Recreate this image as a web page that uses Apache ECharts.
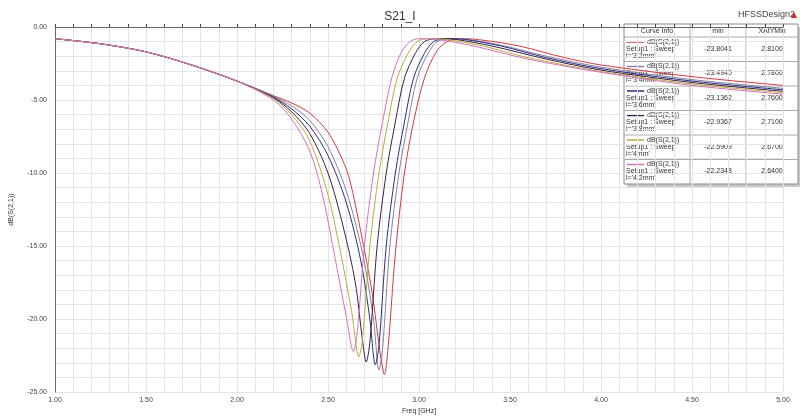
<!DOCTYPE html>
<html>
<head>
<meta charset="utf-8">
<script src="https://cdn.jsdelivr.net/npm/echarts@6/dist/echarts.min.js"></script>
<style>html,body{margin:0;padding:0;background:#fff}#chart{width:800px;height:420px}</style>
</head>
<body>
<div id="chart"></div>
<script>
// S21 sweep curves
const curveNames = ["l='3.2mm'", "l='3.4mm'", "l='3.6mm'", "l='3.8mm'", "l='4mm'", "l='4.2mm'"];
const curveColors = ['#d8383e', '#8a7fa0', '#2a2f7a', '#3a1f4a', '#b5ae3c', '#d86fbf'];
const minValues = ['-23.8041', '-23.4940', '-23.1362', '-22.9367', '-22.5909', '-22.2348'];
const minAt = ['2.8100', '2.7800', '2.7600', '2.7100', '2.6700', '2.6400'];

const sweep32 = [[1.0,-0.8],[1.25,-1.15],[1.5,-1.7],[1.75,-2.6],[2.0,-3.7],[2.2,-4.7],[2.3,-5.2],[2.4,-5.9],[2.5,-7.2],[2.58,-9.1],[2.62,-10.5],[2.68,-14],[2.74,-18],[2.79,-22.6],[2.81,-23.80],[2.83,-22],[2.87,-15.5],[2.92,-10],[2.97,-6.5],[3.03,-3.5],[3.10,-1.6],[3.17,-0.9],[3.25,-0.8],[3.35,-0.9],[3.55,-1.3],[3.8,-2.1],[4.0,-2.6],[4.5,-3.4],[5.0,-4.0]];
const sweep34 = [[1.0,-0.8],[1.25,-1.15],[1.5,-1.7],[1.75,-2.6],[2.0,-3.7],[2.2,-4.75],[2.3,-5.4],[2.4,-6.4],[2.5,-8.2],[2.6,-11.2],[2.69,-15.5],[2.75,-20],[2.78,-23.49],[2.80,-22],[2.84,-15],[2.89,-10],[2.94,-6.5],[2.99,-3.5],[3.05,-1.8],[3.1,-1.0],[3.17,-0.8],[3.27,-0.85],[3.47,-1.3],[3.7,-2.0],[4.0,-2.75],[4.5,-3.6],[5.0,-4.2]];
const sweep36 = [[1.0,-0.8],[1.25,-1.15],[1.5,-1.7],[1.75,-2.6],[2.0,-3.7],[2.2,-4.8],[2.3,-5.6],[2.4,-6.8],[2.5,-8.8],[2.6,-12],[2.68,-16],[2.73,-20],[2.76,-23.14],[2.78,-21.8],[2.82,-15],[2.87,-10],[2.92,-6.5],[2.97,-3.5],[3.03,-1.8],[3.08,-1.0],[3.15,-0.8],[3.25,-0.85],[3.45,-1.3],[3.7,-2.1],[4.0,-2.85],[4.5,-3.7],[5.0,-4.3]];
const sweep38 = [[1.0,-0.8],[1.25,-1.15],[1.5,-1.7],[1.75,-2.6],[2.0,-3.7],[2.2,-4.85],[2.3,-5.8],[2.4,-7.3],[2.5,-10],[2.58,-13.5],[2.65,-17.5],[2.69,-21.5],[2.71,-22.94],[2.73,-21.6],[2.77,-15],[2.82,-10],[2.87,-6.5],[2.92,-3.5],[2.98,-1.8],[3.03,-1.0],[3.1,-0.8],[3.2,-0.85],[3.4,-1.3],[3.7,-2.2],[4.0,-2.95],[4.5,-3.8],[5.0,-4.4]];
const sweep40 = [[1.0,-0.8],[1.25,-1.15],[1.5,-1.7],[1.75,-2.6],[2.0,-3.7],[2.2,-4.9],[2.3,-6.0],[2.4,-7.8],[2.5,-11.5],[2.57,-15.5],[2.63,-19.5],[2.67,-22.59],[2.69,-21.3],[2.73,-15],[2.78,-10],[2.83,-6.5],[2.88,-3.5],[2.94,-1.8],[2.99,-1.0],[3.05,-0.8],[3.15,-0.85],[3.35,-1.3],[3.6,-2.1],[4.0,-3.05],[4.5,-3.9],[5.0,-4.5]];
const sweep42 = [[1.0,-0.8],[1.25,-1.15],[1.5,-1.7],[1.75,-2.6],[2.0,-3.7],[2.2,-5.0],[2.3,-6.3],[2.4,-8.5],[2.47,-11.5],[2.54,-15.9],[2.6,-19.8],[2.64,-22.23],[2.66,-21],[2.70,-15],[2.75,-10],[2.80,-6.5],[2.85,-3.5],[2.90,-1.8],[2.95,-1.0],[3.0,-0.8],[3.1,-0.85],[3.3,-1.3],[3.6,-2.2],[4.0,-3.1],[4.5,-4.0],[5.0,-4.6]];
const curves = [sweep32, sweep34, sweep36, sweep38, sweep40, sweep42];

const myChart = echarts.init(document.getElementById('chart'));

// legend table drawn by hand, HFSS style
const tx = 624, ty = 24, rowH = 24.5, headH = 13;
const font = 'Liberation Sans';
const table = [
    { type: 'rect', shape: { x: tx + 3, y: ty + 3, width: 176, height: headH + rowH * 6 }, style: { fill: '#c8c8c8' } },
    { type: 'rect', shape: { x: tx, y: ty, width: 174, height: headH + rowH * 6 }, style: { fill: '#fff', stroke: '#888', lineWidth: 1 } },
    { type: 'line', shape: { x1: tx + 66, y1: ty, x2: tx + 66, y2: ty + headH + rowH * 6 }, style: { stroke: '#aaa' } },
    { type: 'line', shape: { x1: tx + 122, y1: ty, x2: tx + 122, y2: ty + headH + rowH * 6 }, style: { stroke: '#aaa' } },
    { type: 'text', x: tx + 33, y: ty + 7, style: { text: 'Curve Info', fontSize: 7, fill: '#333', align: 'center', verticalAlign: 'middle', fontFamily: font } },
    { type: 'text', x: tx + 94, y: ty + 7, style: { text: 'min', fontSize: 7, fill: '#333', align: 'center', verticalAlign: 'middle', fontFamily: font } },
    { type: 'text', x: tx + 148, y: ty + 7, style: { text: 'XAtYMin', fontSize: 7, fill: '#333', align: 'center', verticalAlign: 'middle', fontFamily: font } }
];
curveNames.forEach((n, i) => {
    const y0 = ty + headH + rowH * i;
    table.push({ type: 'line', shape: { x1: tx, y1: y0, x2: tx + 174, y2: y0 }, style: { stroke: '#aaa' } });
    table.push({ type: 'line', shape: { x1: tx + 3, y1: y0 + 5, x2: tx + 20, y2: y0 + 5 }, style: { stroke: curveColors[i], lineWidth: 1.5 } });
    table.push({ type: 'text', x: tx + 23, y: y0 + 5, style: { text: 'dB(S(2,1))', fontSize: 7, fill: '#333', verticalAlign: 'middle', fontFamily: font } });
    table.push({ type: 'text', x: tx + 2, y: y0 + 12, style: { text: 'Setup1 : Sweep', fontSize: 7, fill: '#333', verticalAlign: 'middle', fontFamily: font } });
    table.push({ type: 'text', x: tx + 2, y: y0 + 19, style: { text: n, fontSize: 7, fill: '#333', verticalAlign: 'middle', fontFamily: font } });
    table.push({ type: 'text', x: tx + 94, y: y0 + 12, style: { text: minValues[i], fontSize: 7, fill: '#333', align: 'center', verticalAlign: 'middle', fontFamily: font } });
    table.push({ type: 'text', x: tx + 148, y: y0 + 12, style: { text: minAt[i], fontSize: 7, fill: '#333', align: 'center', verticalAlign: 'middle', fontFamily: font } });
});
table.push({ type: 'text', x: 738, y: 15, style: { text: 'HFSSDesign2', fontSize: 9, fill: '#444', verticalAlign: 'middle', fontFamily: font } });
table.push({ type: 'polygon', shape: { points: [[791, 18], [797, 18], [794, 12]] }, style: { fill: '#d03030' } });

const isMajor = (v, step) => Math.abs(v / step - Math.round(v / step)) < 1e-6;

const option = {
    animation: false,
    title: { text: 'S21_I', left: 'center', top: 6, textStyle: { fontSize: 12, fontWeight: 'normal', color: '#333', fontFamily: font } },
    grid: { left: 55, right: 17, top: 27, bottom: 27 },
    xAxis: {
        type: 'value', min: 1, max: 5, interval: 0.1,
        name: 'Freq [GHz]', nameLocation: 'middle', nameGap: 15,
        nameTextStyle: { fontSize: 7, color: '#333', fontFamily: font },
        axisLine: { lineStyle: { color: '#666' } },
        axisTick: { length: 3, inside: true, lineStyle: { color: '#444' } },
        axisLabel: { fontSize: 7, color: '#444', margin: 4, showMaxLabel: true, formatter: v => isMajor(v, 0.5) ? v.toFixed(2) : '' },
        splitLine: { lineStyle: { color: '#e4e4e4' } }
    },
    yAxis: {
        type: 'value', min: -25, max: 0, interval: 1,
        name: 'dB(S(2,1))', nameLocation: 'middle', nameGap: 40,
        nameTextStyle: { fontSize: 7, color: '#333', fontFamily: font },
        axisLine: { show: true, lineStyle: { color: '#666' } },
        axisTick: { show: false },
        axisLabel: { fontSize: 7, color: '#444', formatter: v => isMajor(v, 5) ? v.toFixed(2) : '' },
        splitLine: { lineStyle: { color: '#e4e4e4' } }
    },
    graphic: table,
    series: curves.map((d, i) => ({
        type: 'line', name: curveNames[i], data: d, smooth: 0.3, showSymbol: false,
        lineStyle: { color: curveColors[i], width: 1 }, z: 2
    }))
};
myChart.setOption(option);
</script>
</body>
</html>
